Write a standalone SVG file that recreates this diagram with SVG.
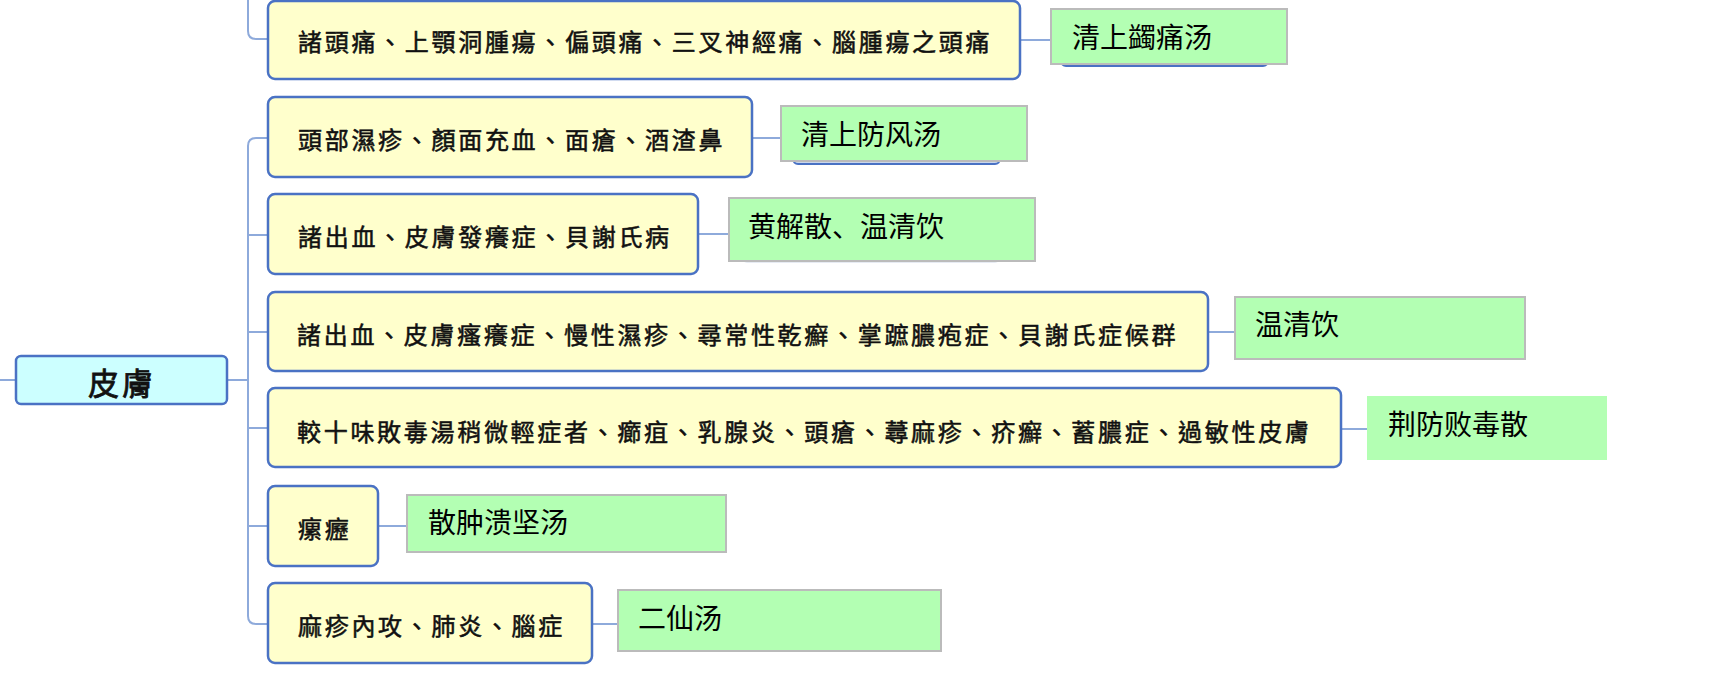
<svg xmlns="http://www.w3.org/2000/svg" width="1722" height="674" viewBox="0 0 1722 674">
<style>
.bg{fill:#ffffff}
.yb{fill:#ffffcc;stroke:#4a72c4;stroke-width:2.5}
.root{fill:#ccffff;stroke:#4a72c4;stroke-width:2.5}
.gb{fill:#b3ffb3;stroke:#bbbbbb;stroke-width:2}
.gn{fill:#b3ffb3}
.sh{fill:#c9d6ec;stroke:#4a72c4;stroke-width:2}
.sh2{fill:#eef2f8;stroke:#dfe5ef;stroke-width:1.5}
.yt{font-family:"Noto Sans CJK TC","Noto Sans CJK SC",sans-serif;font-size:24px;font-weight:400;fill:#111;stroke:#111;stroke-width:0.55px;letter-spacing:2.7px;dominant-baseline:central}
.rt{font-family:"Noto Sans CJK TC","Noto Sans CJK SC",sans-serif;font-size:31px;font-weight:400;fill:#111;stroke:#111;stroke-width:0.8px;letter-spacing:3px;dominant-baseline:central;text-anchor:middle}
.gt{font-family:"Noto Sans CJK SC","Noto Sans CJK TC",sans-serif;font-size:28px;font-weight:400;fill:#000;dominant-baseline:central}
.c{fill:none;stroke:#8eaadb;stroke-width:2}
</style>
<rect class="bg" x="0" y="0" width="1722" height="674"/>
<g id="connectors">
<path class="c" d="M0,380 H16"/>
<path class="c" d="M227,380 H248"/>
<path class="c" d="M248,0 V31 Q248,39 256,39 H268"/>
<path class="c" d="M268,138 H256 Q248,138 248,146 V616 Q248,624 256,624 H268"/>
<path class="c" d="M248,235 H268 M248,332 H268 M248,428 H268 M248,526 H268"/>
<path class="c" d="M1020,40 H1051"/>
<path class="c" d="M752,138 H781"/>
<path class="c" d="M698,234 H729"/>
<path class="c" d="M1208,332 H1235"/>
<path class="c" d="M1341,429 H1367"/>
<path class="c" d="M378,526 H407"/>
<path class="c" d="M592,624 H618"/>
</g>
<g id="root">
<rect class="root" x="16" y="356" width="211" height="48" rx="5"/>
<text class="rt" x="122" y="381">皮膚</text>
</g>
<g id="n1">
<rect class="yb" x="268" y="1" width="752" height="78" rx="7"/>
<text class="yt" x="298" y="40">諸頭痛、上顎洞腫瘍、偏頭痛、三叉神經痛、腦腫瘍之頭痛</text>
</g>
<g id="n2">
<rect class="yb" x="268" y="97" width="484" height="80" rx="7"/>
<text class="yt" x="298" y="138">頭部濕疹、顏面充血、面瘡、酒渣鼻</text>
</g>
<g id="n3">
<rect class="yb" x="268" y="194" width="430" height="80" rx="7"/>
<text class="yt" x="298" y="235">諸出血、皮膚發癢症、貝謝氏病</text>
</g>
<g id="n4">
<rect class="yb" x="268" y="292" width="940" height="79" rx="7"/>
<text class="yt" x="297" y="333">諸出血、皮膚瘙癢症、慢性濕疹、尋常性乾癬、掌蹠膿疱症、貝謝氏症候群</text>
</g>
<g id="n5">
<rect class="yb" x="268" y="388" width="1073" height="79" rx="7"/>
<text class="yt" x="297" y="430">較十味敗毒湯稍微輕症者、癤疽、乳腺炎、頭瘡、蕁麻疹、疥癬、蓄膿症、過敏性皮膚</text>
</g>
<g id="n6">
<rect class="yb" x="268" y="486" width="110" height="80" rx="7"/>
<text class="yt" x="298" y="527">瘰癧</text>
</g>
<g id="n7">
<rect class="yb" x="268" y="583" width="324" height="80" rx="7"/>
<text class="yt" x="298" y="624">麻疹內攻、肺炎、腦症</text>
</g>
<g id="g1">
<rect class="sh" x="1061" y="20" width="207" height="46" rx="5"/>
<rect class="gb" x="1051" y="9" width="236" height="55"/>
<text class="gt" x="1072" y="36">清上蠲痛汤</text>
</g>
<g id="g2">
<rect class="sh" x="793" y="118" width="207" height="46" rx="5"/>
<rect class="gb" x="781" y="106" width="246" height="55"/>
<text class="gt" x="801" y="133">清上防风汤</text>
</g>
<g id="g3">
<rect class="sh2" x="742" y="215" width="258" height="47" rx="5"/>
<rect class="gb" x="729" y="198" width="306" height="63"/>
<text class="gt" x="748" y="225">黄解散、温清饮</text>
</g>
<g id="g4">
<rect class="gb" x="1235" y="297" width="290" height="62"/>
<text class="gt" x="1255" y="323">温清饮</text>
</g>
<g id="g5">
<rect class="gn" x="1367" y="396" width="240" height="64"/>
<text class="gt" x="1388" y="423">荆防败毒散</text>
</g>
<g id="g6">
<rect class="gb" x="407" y="495" width="319" height="57"/>
<text class="gt" x="428" y="521">散肿溃坚汤</text>
</g>
<g id="g7">
<rect class="gb" x="618" y="590" width="323" height="61"/>
<text class="gt" x="638" y="617">二仙汤</text>
</g>
</svg>
